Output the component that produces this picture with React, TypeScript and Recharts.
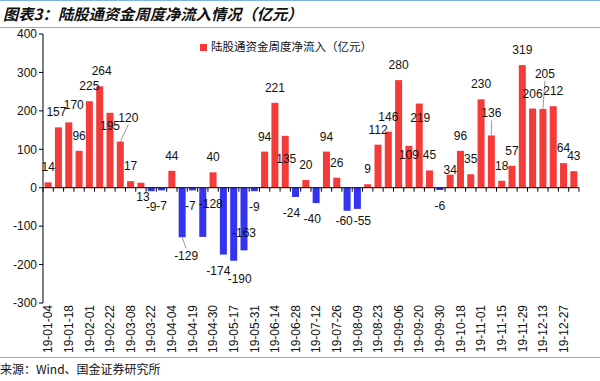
import { BarChart, Bar, XAxis, YAxis, Cell, LabelList, Legend, ReferenceLine } from 'recharts';

const weeks = [
    '19-01-04', '19-01-11', '19-01-18', '19-01-25', '19-02-01', '19-02-15', '19-02-22', '19-03-01',
    '19-03-08', '19-03-15', '19-03-22', '19-03-29', '19-04-04', '19-04-12', '19-04-19', '19-04-26',
    '19-04-30', '19-05-10', '19-05-17', '19-05-24', '19-05-31', '19-06-06', '19-06-14', '19-06-21',
    '19-06-28', '19-07-05', '19-07-12', '19-07-19', '19-07-26', '19-08-02', '19-08-09', '19-08-16',
    '19-08-23', '19-08-30', '19-09-06', '19-09-12', '19-09-20', '19-09-27', '19-09-30', '19-10-11',
    '19-10-18', '19-10-25', '19-11-01', '19-11-08', '19-11-15', '19-11-22', '19-11-29', '19-12-06',
    '19-12-13', '19-12-20', '19-12-27', '20-01-03',
];

const netInflow = [
    14, 157, 170, 96, 225, 264, 195, 120,
    17, 13, -9, -7, 44, -129, -7, -128,
    40, -174, -190, -163, -9, 94, 221, 135,
    -24, 20, -40, 94, 26, -60, -55, 9,
    112, 146, 280, 109, 219, 45, -6, 34,
    96, 35, 230, 136, 18, 57, 319, 206,
    205, 212, 64, 43,
];

const yTicks = [-300, -200, -100, 0, 100, 200, 300, 400];

const seriesName = '陆股通资金周度净流入（亿元）';

const data = weeks.map((week, i) => ({ week, value: netInflow[i] }));

const RED = '#f53a3a';
const BLUE = '#3333f0';
const RULE = '#7fb5dd';
const GAP = 0.16;

// hand-placed labels in the original (Excel) chart: [dx, dy] nudges by bar index
const labelNudge: Record<number, [number, number]> = {
    1: [-2, 0], 2: [5, -2], 5: [2, 0], 6: [0, 28], 7: [8, -9], 9: [2, 29], 13: [4, 3],
    14: [-2, 0], 15: [8, -49], 17: [-5, 0], 18: [6, 2], 19: [0, -33], 23: [1, 38],
    24: [-4, 0], 26: [-4, 0], 29: [-3, -6], 30: [5, -4], 35: [0, 24],
    36: [1, 29], 39: [0, 10], 43: [0, -7], 48: [2, -20],
};
const leaderLines = [7, 13, 43, 48];

// bar + the little tick marks on the zero line between categories
const BarWithTick = (props: any) => {
    const { x, y, width, height, fill, index } = props;
    const top = Math.min(y, y + height);
    const h = Math.abs(height);
    const v = netInflow[index];
    const zeroY = v >= 0 ? top + h : top;
    const band = width / (1 - 2 * GAP);
    const left = x - band * GAP;
    return (
        <g>
            <rect x={x} y={top} width={width} height={h} fill={fill} />
            <line x1={left} x2={left} y1={zeroY} y2={zeroY + 4} stroke="#000" strokeWidth={1} />
            {index === netInflow.length - 1 && (
                <line x1={left + band} x2={left + band} y1={zeroY} y2={zeroY + 4} stroke="#000" strokeWidth={1} />
            )}
        </g>
    );
};

const ValueLabel = (props: any) => {
    const { x, y, width, height, value, index } = props;
    const top = Math.min(y, y + height);
    const h = Math.abs(height);
    const cx = x + width / 2;
    const [dx, dy] = labelNudge[index] ?? [0, 0];
    const pos = value >= 0;
    const ty = (pos ? top - 11 : top + h + 20) + dy;
    const end = pos ? top : top + h;
    const lx = cx + dx;
    const labelEdge = pos ? ty + 3 : ty - 12;
    return (
        <g>
            {leaderLines.includes(index) && (
                <line x1={lx} y1={labelEdge} x2={cx} y2={end} stroke="#999" strokeWidth={1} />
            )}
            <text x={lx} y={ty} textAnchor="middle" fontSize={12} fill="#111">
                {value}
            </text>
        </g>
    );
};

const WeekTick = (props: any) => {
    const { x, y, payload } = props;
    return (
        <g transform={`translate(${x},${y})`}>
            <text transform="rotate(-90)" textAnchor="end" dy="0.35em" fontSize={12} fill="#111">
                {payload.value}
            </text>
        </g>
    );
};

export default function App() {
    return (
        <div
            style={{
                position: 'relative',
                width: 600,
                height: 381,
                background: '#fff',
                fontFamily: '"Liberation Sans", Arial, "Noto Sans CJK SC", sans-serif',
            }}
        >
            <style>{'body{margin:0}'}</style>
            <div style={{ position: 'absolute', left: 0, top: 0, width: 600, height: 1, background: RULE }} />
            <div
                style={{
                    position: 'absolute',
                    left: 3,
                    top: 3,
                    fontFamily: '"Noto Sans CJK SC", sans-serif',
                    fontWeight: 700,
                    fontStyle: 'italic',
                    fontSize: 15.3,
                    lineHeight: '20px',
                    color: '#111',
                }}
            >
                图表3：陆股通资金周度净流入情况（亿元）
            </div>
            <div style={{ position: 'absolute', left: 0, top: 27, width: 600, height: 1, background: RULE }} />
            <div style={{ position: 'absolute', left: 0, top: 28 }}>
                <BarChart
                    width={600}
                    height={330}
                    data={data}
                    margin={{ top: 6, right: 21, bottom: 0, left: 0 }}
                    barCategoryGap={`${GAP * 100}%`}
                >
                    <XAxis
                        dataKey="week"
                        interval={1}
                        axisLine={false}
                        tickLine={false}
                        tickSize={0}
                        tickMargin={2}
                        height={55}
                        tick={<WeekTick />}
                    />
                    <YAxis
                        domain={[-300, 400]}
                        ticks={yTicks}
                        width={43}
                        tickSize={4}
                        tickLine={{ stroke: '#000' }}
                        axisLine={{ stroke: '#000' }}
                        tick={{ fill: '#111', fontSize: 12 }}
                        interval={0}
                    />
                    <Legend
                        layout="horizontal"
                        verticalAlign="middle"
                        align="center"
                        iconType="square"
                        iconSize={7}
                        wrapperStyle={{ top: 10, left: 200, width: 'auto', fontSize: 11.5, fontFamily: '"Noto Sans CJK SC", sans-serif' }}
                        formatter={(v: string) => <span style={{ color: '#111' }}>{v}</span>}
                    />
                    <ReferenceLine y={0} stroke="#000" strokeWidth={1} />
                    <Bar dataKey="value" name={seriesName} fill={RED} shape={<BarWithTick />} isAnimationActive={false}>
                        {netInflow.map((v, i) => (
                            <Cell key={i} fill={v >= 0 ? RED : BLUE} />
                        ))}
                        <LabelList dataKey="value" content={<ValueLabel />} />
                    </Bar>
                </BarChart>
            </div>
            <div style={{ position: 'absolute', left: 0, top: 357, width: 600, height: 1, background: RULE }} />
            <div
                style={{
                    position: 'absolute',
                    left: 0,
                    top: 360,
                    fontSize: 12,
                    fontFamily: '"Noto Sans CJK SC", sans-serif',
                    color: '#111',
                }}
            >
                来源：Wind、国金证券研究所
            </div>
        </div>
    );
}
